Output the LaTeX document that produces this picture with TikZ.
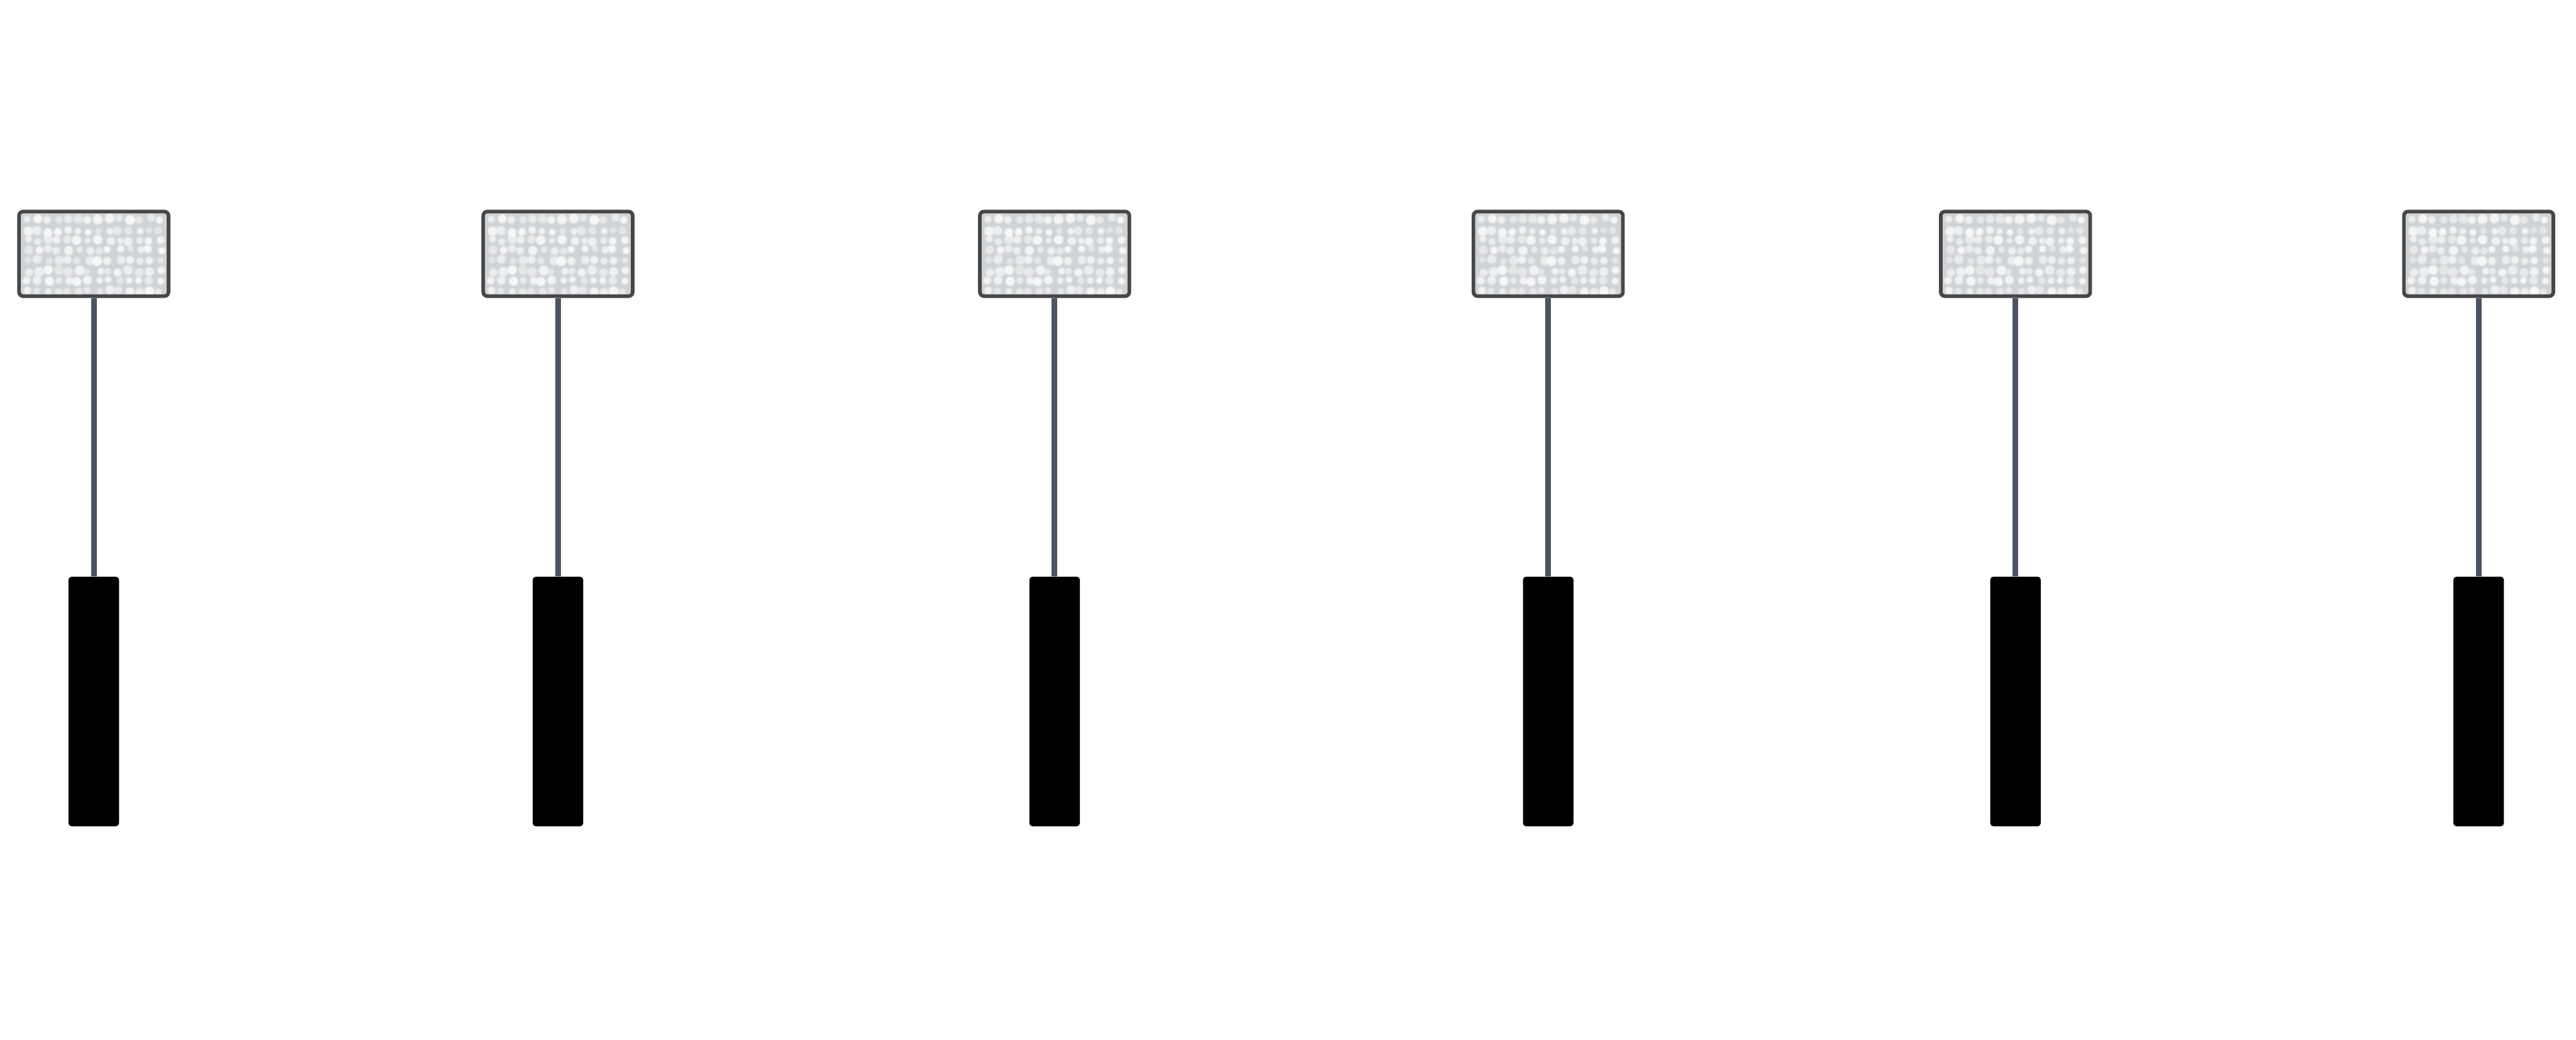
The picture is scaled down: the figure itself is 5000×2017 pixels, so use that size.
\documentclass[tikz,border=0pt]{standalone}
\usetikzlibrary{backgrounds}
\definecolor{scrborder}{HTML}{474747}
\definecolor{scrfill}{HTML}{D0D3D6}
\definecolor{polecol}{HTML}{4C5363}
\tikzset{
  screenbox/.style={draw=scrborder, fill=scrfill, line width=0.07cm,
    rounded corners=0.08cm, minimum width=2.90cm, minimum height=1.64cm,
    inner sep=0pt, path picture={\screenblobs}},
  weightbar/.style={fill=black, rounded corners=0.06cm, minimum width=0.98cm,
    minimum height=4.84cm, inner sep=0pt},
  pole/.style={draw=polecol, line width=0.11cm}
}
\newcommand\screenblobs{%
  \pgfmathsetseed{7}%
  \foreach \ry in {14,38,56,74,94,116,134,154}{%
    \foreach \c in {0,...,13}{%
      \pgfmathsetmacro\bx{-145+16+\c*19.8+4*rand}%
      \pgfmathsetmacro\by{-82+\ry+2.5*rand}%
      \pgfmathsetmacro\br{0.05+0.035*rnd}%
      \pgfmathsetmacro\bo{0.35+0.55*rnd}%
      \fill[white,opacity=\bo*0.3] (\bx,\by) circle[radius=\br cm+0.03cm];
      \fill[white,opacity=\bo*0.4] (\bx,\by) circle[radius=\br cm+0.012cm];
      \fill[white,opacity=\bo*0.7] (\bx,\by) circle[radius=\br cm];
    }}}
\begin{document}
\begin{tikzpicture}[x=0.01cm,y=-0.01cm]
\useasboundingbox (0,0) rectangle (5000,2017);
\foreach \i/\x in {1/182,2/1083,3/2047,4/3005,5/3912,6/4811}{
  \node[screenbox] (s\i) at (\x,492.5) {};
  \node[weightbar] (w\i) at (\x,1361) {};
  \begin{pgfonlayer}{background}
    \draw[pole] (s\i.south) -- (w\i.north);
  \end{pgfonlayer}
}
\end{tikzpicture}
\end{document}
